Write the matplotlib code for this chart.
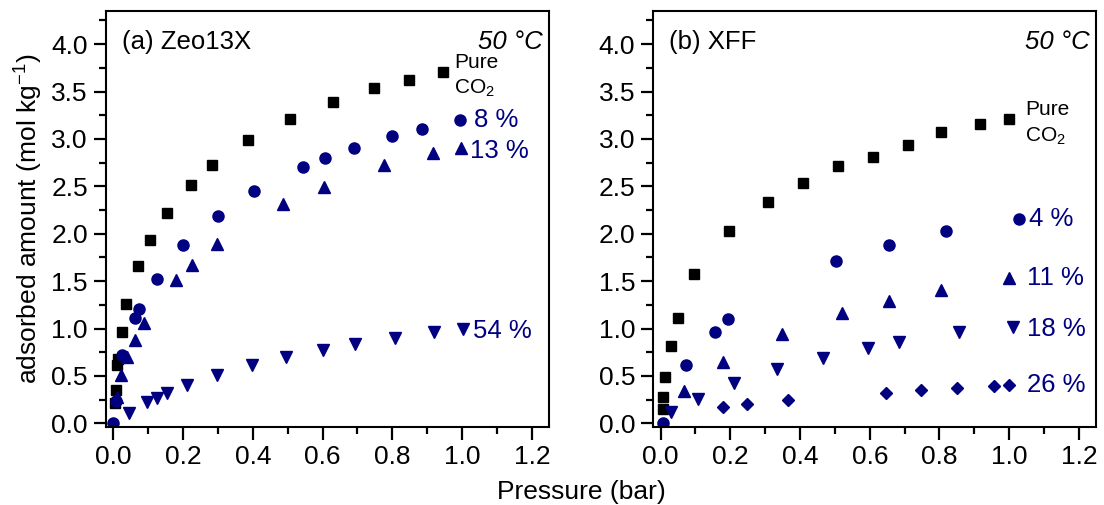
import matplotlib
matplotlib.use("Agg")
import matplotlib.pyplot as plt
from matplotlib.ticker import MultipleLocator

plt.rcParams['font.family'] = ['Liberation Sans', 'DejaVu Sans']
plt.rcParams['mathtext.fontset'] = 'custom'
plt.rcParams['mathtext.rm'] = 'Liberation Sans'

NAVY = '#000080'

# ---- Panel (a) Zeo13X ----
a_pure_x = [0.005, 0.007, 0.010, 0.012, 0.024, 0.036, 0.072, 0.104, 0.154, 0.222, 0.282, 0.385, 0.507, 0.631, 0.748, 0.849, 0.946]
a_pure_y = [0.21, 0.35, 0.62, 0.68, 0.96, 1.26, 1.66, 1.93, 2.22, 2.51, 2.72, 2.99, 3.21, 3.39, 3.54, 3.62, 3.71]
a_8_x = [0.0, 0.008, 0.024, 0.062, 0.075, 0.124, 0.200, 0.299, 0.403, 0.544, 0.607, 0.691, 0.800, 0.886, 0.995]
a_8_y = [0.0, 0.24, 0.72, 1.11, 1.21, 1.52, 1.88, 2.19, 2.45, 2.70, 2.80, 2.90, 3.03, 3.11, 3.20]
a_13_x = [0.010, 0.021, 0.040, 0.062, 0.089, 0.180, 0.225, 0.297, 0.487, 0.604, 0.776, 0.917, 0.997]
a_13_y = [0.28, 0.51, 0.70, 0.88, 1.06, 1.51, 1.67, 1.89, 2.31, 2.49, 2.72, 2.85, 2.90]
a_54_x = [0.046, 0.096, 0.124, 0.153, 0.212, 0.296, 0.397, 0.495, 0.602, 0.694, 0.807, 0.920, 1.002]
a_54_y = [0.11, 0.22, 0.27, 0.32, 0.40, 0.51, 0.615, 0.70, 0.77, 0.84, 0.90, 0.96, 1.00]

# ---- Panel (b) XFF ----
b_pure_x = [0.006, 0.008, 0.012, 0.029, 0.050, 0.095, 0.195, 0.308, 0.409, 0.509, 0.608, 0.710, 0.804, 0.916, 1.000]
b_pure_y = [0.15, 0.28, 0.49, 0.82, 1.11, 1.58, 2.03, 2.33, 2.54, 2.71, 2.81, 2.94, 3.07, 3.16, 3.21]
b_4_x = [0.006, 0.072, 0.155, 0.194, 0.502, 0.654, 0.819, 1.027]
b_4_y = [0.0, 0.61, 0.96, 1.10, 1.71, 1.88, 2.03, 2.16]
b_11_x = [0.067, 0.180, 0.347, 0.519, 0.654, 0.804, 0.999]
b_11_y = [0.345, 0.65, 0.94, 1.16, 1.29, 1.41, 1.53]
b_18_x = [0.030, 0.108, 0.210, 0.335, 0.466, 0.595, 0.685, 0.857, 1.012]
b_18_y = [0.115, 0.26, 0.425, 0.575, 0.69, 0.79, 0.855, 0.96, 1.02]
b_26_x = [0.179, 0.248, 0.365, 0.646, 0.746, 0.851, 0.956, 1.000]
b_26_y = [0.175, 0.20, 0.248, 0.32, 0.35, 0.37, 0.39, 0.405]

x_ticks = [0.0, 0.2, 0.4, 0.6, 0.8, 1.0, 1.2]
y_ticks = [0.0, 0.5, 1.0, 1.5, 2.0, 2.5, 3.0, 3.5, 4.0]

fig = plt.figure(figsize=(11.04, 5.05), dpi=100)
axA = fig.add_axes([106/1104, 1 - 426.5/505, 443/1104, 415.5/505])
axB = fig.add_axes([653.3/1104, 1 - 426.5/505, 442.7/1104, 415.5/505])

FS_TICK = 19
FS_LAB = 18.5
FS_PURE = 15

def style(ax):
    ax.set_xlim(-0.021, 1.249)
    ax.set_ylim(-0.034, 4.35)
    ax.set_xticks(x_ticks)
    ax.set_yticks(y_ticks)
    ax.set_xticklabels([f"{v:.1f}" for v in x_ticks])
    ax.set_yticklabels([f"{v:.1f}" for v in y_ticks])
    ax.xaxis.set_minor_locator(MultipleLocator(0.1))
    ax.yaxis.set_minor_locator(MultipleLocator(0.25))
    ax.tick_params(which='both', direction='out', top=False, right=False, width=1.6)
    ax.tick_params(which='major', length=9, labelsize=FS_TICK, pad=4)
    ax.tick_params(which='minor', length=5)
    for s in ax.spines.values():
        s.set_linewidth(1.5)

ms_kw = dict(linestyle='none')
# panel a
axA.plot(a_pure_x, a_pure_y, marker='s', color='black', ms=7.3, **ms_kw)
axA.plot(a_8_x, a_8_y, marker='o', color=NAVY, ms=8, **ms_kw)
axA.plot(a_13_x, a_13_y, marker='^', color=NAVY, ms=8.5, **ms_kw)
axA.plot(a_54_x, a_54_y, marker='v', color=NAVY, ms=8.5, **ms_kw)
style(axA)
axA.text(0.035, 0.955, "(a) Zeo13X", transform=axA.transAxes, fontsize=FS_LAB, ha='left', va='top')
axA.text(0.985, 0.955, "50 °C", transform=axA.transAxes, fontsize=FS_LAB, ha='right', va='top', style='italic')
axA.text(0.977, 3.81, "Pure", fontsize=FS_PURE, ha='left', va='center')
axA.text(0.977, 3.54, "CO$_2$", fontsize=FS_PURE, ha='left', va='center')
axA.text(1.035, 3.20, "8 %", fontsize=FS_LAB, color=NAVY, ha='left', va='center')
axA.text(1.022, 2.87, "13 %", fontsize=FS_LAB, color=NAVY, ha='left', va='center')
axA.text(1.030, 0.97, "54 %", fontsize=FS_LAB, color=NAVY, ha='left', va='center')
axA.set_ylabel("adsorbed amount (mol kg$^{-1}$)", fontsize=19, labelpad=5)

# panel b
axB.plot(b_pure_x, b_pure_y, marker='s', color='black', ms=7.3, **ms_kw)
axB.plot(b_4_x, b_4_y, marker='o', color=NAVY, ms=8, **ms_kw)
axB.plot(b_11_x, b_11_y, marker='^', color=NAVY, ms=8.5, **ms_kw)
axB.plot(b_18_x, b_18_y, marker='v', color=NAVY, ms=8.5, **ms_kw)
axB.plot(b_26_x, b_26_y, marker='D', color=NAVY, ms=6.5, **ms_kw)
style(axB)
axB.text(0.035, 0.955, "(b) XFF", transform=axB.transAxes, fontsize=FS_LAB, ha='left', va='top')
axB.text(0.985, 0.955, "50 °C", transform=axB.transAxes, fontsize=FS_LAB, ha='right', va='top', style='italic')
axB.text(1.045, 3.31, "Pure", fontsize=FS_PURE, ha='left', va='center')
axB.text(1.045, 3.03, "CO$_2$", fontsize=FS_PURE, ha='left', va='center')
axB.text(1.058, 2.16, "4 %", fontsize=FS_LAB, color=NAVY, ha='left', va='center')
axB.text(1.050, 1.53, "11 %", fontsize=FS_LAB, color=NAVY, ha='left', va='center')
axB.text(1.050, 1.00, "18 %", fontsize=FS_LAB, color=NAVY, ha='left', va='center')
axB.text(1.050, 0.405, "26 %", fontsize=FS_LAB, color=NAVY, ha='left', va='center')

fig.text(581/1104, 1 - 492/505, "Pressure (bar)", fontsize=19, ha='center', va='center')

fig.savefig("out.png", dpi=100)
